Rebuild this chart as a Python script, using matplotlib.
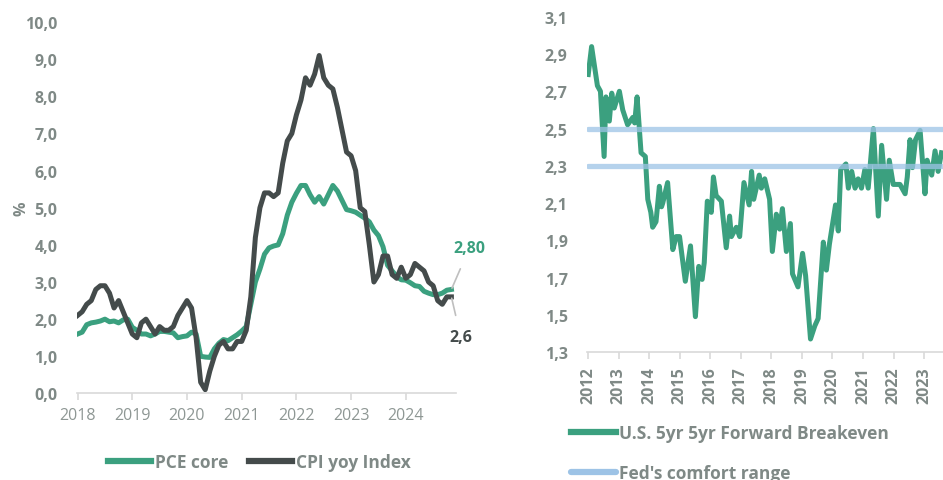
import numpy as np
import matplotlib
matplotlib.use('Agg')
import matplotlib.pyplot as plt

plt.rcParams['font.family'] = ['Open Sans', 'DejaVu Sans']

# --- left panel: monthly yoy, Jan 2018 .. Nov 2024 ---
start_year = 2018
pce_core = [
    1.60, 1.65, 1.85, 1.90, 1.92, 1.95, 2.00, 1.93, 1.95, 1.90, 1.98, 2.00,
    1.78, 1.70, 1.60, 1.60, 1.55, 1.60, 1.67, 1.67, 1.65, 1.63, 1.50, 1.53,
    1.55, 1.65, 1.60, 1.00, 0.98, 0.97, 1.20, 1.35, 1.45, 1.42, 1.50, 1.58,
    1.68, 1.80, 2.40, 3.00, 3.35, 3.75, 3.92, 3.97, 4.00, 4.30, 4.80, 5.15,
    5.39, 5.60, 5.60, 5.35, 5.15, 5.30, 5.10, 5.35, 5.60, 5.45, 5.20, 4.95,
    4.92, 4.88, 4.80, 4.72, 4.62, 4.40, 4.25, 3.95, 3.45, 3.30, 3.15, 3.06,
    3.05, 2.98, 2.90, 2.88, 2.75, 2.70, 2.66, 2.66, 2.70, 2.78, 2.80,
]
cpi_yoy = [
    2.1, 2.2, 2.4, 2.5, 2.8, 2.9, 2.9, 2.7, 2.3, 2.5, 2.2, 1.9,
    1.6, 1.5, 1.9, 2.0, 1.8, 1.6, 1.8, 1.7, 1.7, 1.8, 2.1, 2.3,
    2.5, 2.3, 1.5, 0.3, 0.1, 0.6, 1.0, 1.3, 1.4, 1.2, 1.2, 1.4,
    1.4, 1.7, 2.6, 4.2, 5.0, 5.4, 5.4, 5.3, 5.4, 6.2, 6.8, 7.0,
    7.5, 7.9, 8.5, 8.3, 8.6, 9.1, 8.5, 8.3, 8.2, 7.7, 7.1, 6.5,
    6.4, 6.0, 5.0, 4.9, 4.0, 3.0, 3.2, 3.7, 3.7, 3.2, 3.1, 3.4,
    3.1, 3.2, 3.5, 3.4, 3.3, 3.0, 2.9, 2.5, 2.4, 2.6, 2.6,
]
left_years = list(range(2018, 2025))
left_yticks = np.arange(0, 10.01, 1.0)

# --- right panel: 5y5y forward breakeven (decimal years) ---
be_dates = [
    2012.00, 2012.11, 2012.30, 2012.40, 2012.52, 2012.58, 2012.63, 2012.69, 2012.77, 2012.85,
    2013.02, 2013.13, 2013.29, 2013.46, 2013.52, 2013.60, 2013.73, 2013.87, 2013.95,
    2014.05, 2014.11, 2014.22, 2014.33, 2014.40, 2014.44, 2014.60, 2014.77, 2014.88, 2014.99,
    2015.18, 2015.35, 2015.51, 2015.62, 2015.73, 2015.80, 2015.90,
    2016.03, 2016.10, 2016.19, 2016.36, 2016.52, 2016.63, 2016.69, 2016.85, 2016.96,
    2017.10, 2017.27, 2017.35, 2017.42, 2017.60, 2017.67, 2017.78, 2017.94,
    2018.03, 2018.16, 2018.27, 2018.36, 2018.49, 2018.62, 2018.69, 2018.87,
    2019.02, 2019.12, 2019.28, 2019.42, 2019.53, 2019.70, 2019.80, 2019.90,
    2020.10, 2020.19, 2020.27, 2020.44, 2020.52, 2020.63, 2020.74, 2020.84, 2020.95,
    2021.06, 2021.17, 2021.34, 2021.50, 2021.61, 2021.77, 2021.86, 2021.99,
    2022.21, 2022.38, 2022.45, 2022.54, 2022.62, 2022.72, 2022.87,
    2023.03, 2023.10, 2023.25, 2023.36, 2023.46, 2023.57,
]
be_values = [
    2.79, 2.94, 2.73, 2.70, 2.35, 2.67, 2.55, 2.54, 2.69, 2.61,
    2.70, 2.60, 2.52, 2.56, 2.53, 2.67, 2.37, 2.35, 2.12,
    2.05, 1.97, 2.00, 2.19, 2.08, 2.10, 2.21, 1.85, 1.92, 1.92,
    1.68, 1.87, 1.49, 1.76, 1.69, 1.78, 2.11,
    2.05, 2.24, 2.14, 2.11, 1.86, 2.03, 1.92, 1.97, 1.92,
    2.21, 2.09, 2.27, 2.12, 2.25, 2.18, 2.23, 2.12,
    1.84, 2.04, 1.96, 2.07, 1.84, 1.99, 1.72, 1.65,
    1.83, 1.71, 1.37, 1.44, 1.48, 1.89, 1.74, 1.88,
    2.09, 1.95, 2.28, 2.31, 2.18, 2.27, 2.18, 2.23, 2.18,
    2.28, 2.18, 2.50, 2.03, 2.41, 2.12, 2.33, 2.20,
    2.20, 2.15, 2.24, 2.44, 2.29, 2.44, 2.49,
    2.15, 2.33, 2.25, 2.38, 2.27, 2.37,
]
comfort_range = [2.3, 2.5]
right_years = list(range(2012, 2024))
right_yticks = np.arange(1.3, 3.11, 0.2)

GREEN = '#3ba07f'
DARK = '#444b4b'
BLUE = '#9dc3e6'
GRAY = '#7f8986'
LGRAY = '#8e9794'
AXIS = '#d9d9d9'
FS = 11.5

fig = plt.figure(figsize=(9.43, 4.81), dpi=100)

# ---------------- left chart ----------------
ax1 = fig.add_axes([0.0817, 0.180, 0.402, 0.772])
xm = start_year + np.arange(len(pce_core)) / 12
ax1.plot(xm, pce_core, color=GREEN, lw=3.6, solid_joinstyle='round', label='PCE core')
ax1.plot(xm, cpi_yoy, color=DARK, lw=3.6, solid_joinstyle='round', label='CPI yoy Index')
ax1.set_xlim(2017.99, 2024.92)
ax1.set_ylim(0, 10)
ax1.set_xticks(left_years)
ax1.set_xticklabels([str(y) for y in left_years], fontsize=FS, color=LGRAY)
ax1.set_yticks(left_yticks)
ax1.set_yticklabels([f'{v:.1f}'.replace('.', ',') for v in left_yticks],
                    fontsize=FS, color=GRAY, fontweight='bold')
for s in ['top', 'right', 'left']:
    ax1.spines[s].set_visible(False)
ax1.spines['bottom'].set_color(AXIS)
ax1.spines['bottom'].set_linewidth(1.2)
ax1.tick_params(axis='y', length=0, pad=14)
ax1.tick_params(axis='x', length=5, color=AXIS, width=1.2, pad=5)
ax1.set_ylabel('%', fontsize=FS, color=GRAY, fontweight='bold')
ax1.yaxis.set_label_coords(-0.125, 0.5)

ax1.annotate('2,80', xy=(xm[-1], pce_core[-1]), xytext=(xm[-1] + 0.33, 3.92),
             ha='center', va='center', fontsize=FS, fontweight='bold', color=GREEN,
             arrowprops=dict(arrowstyle='-', color='#bfbfbf', lw=1.2,
                             shrinkA=8, shrinkB=1),
             annotation_clip=False)
ax1.annotate('2,6', xy=(xm[-1], cpi_yoy[-1]), xytext=(xm[-1] + 0.17, 1.52),
             ha='center', va='center', fontsize=FS, fontweight='bold', color=DARK,
             arrowprops=dict(arrowstyle='-', color='#bfbfbf', lw=1.2,
                             shrinkA=8, shrinkB=1),
             annotation_clip=False)

leg1 = ax1.legend(loc='center', bbox_to_anchor=(0.48, -0.186), ncol=2, frameon=False,
                  fontsize=12.5, handlelength=2.5, handletextpad=0.2, columnspacing=1.2)
for t in leg1.get_texts():
    t.set_color(GRAY)
    t.set_fontweight('bold')
for h in leg1.get_lines():
    h.set_linewidth(4.5)

# ---------------- right chart ----------------
ax2 = fig.add_axes([0.6225, 0.266, 0.3775, 0.697])
ax2.plot(be_dates, be_values, color=GREEN, lw=3.6, solid_joinstyle='round',
         label='U.S. 5yr 5yr Forward Breakeven')
for i, lvl in enumerate(comfort_range):
    ax2.plot([be_dates[0], 2030], [lvl, lvl], color=BLUE, lw=3.8, alpha=0.75,
             solid_capstyle='round', zorder=3,
             label="Fed's comfort range" if i == 0 else None)
ax2.set_xlim(2011.96, 2023.62)
ax2.set_ylim(1.3, 3.1)
ax2.set_xticks(right_years)
ax2.set_xticklabels([str(y) for y in right_years], fontsize=FS, color=GRAY,
                    fontweight='bold', rotation=90)
ax2.set_yticks(right_yticks)
ax2.set_yticklabels([f'{v:.1f}'.replace('.', ',') for v in right_yticks],
                    fontsize=FS, color=GRAY, fontweight='bold')
for s in ['top', 'right', 'left']:
    ax2.spines[s].set_visible(False)
ax2.spines['bottom'].set_color(AXIS)
ax2.spines['bottom'].set_linewidth(1.2)
ax2.tick_params(axis='y', length=0, pad=14)
ax2.tick_params(axis='x', length=5, color=AXIS, width=1.2, pad=5)

leg2 = ax2.legend(loc='upper left', bbox_to_anchor=(-0.045, -0.215), ncol=1, frameon=False,
                  fontsize=12.5, handlelength=2.6, handletextpad=0.15, labelspacing=1.25,
                  borderaxespad=0, borderpad=0)
for t in leg2.get_texts():
    t.set_color(GRAY)
    t.set_fontweight('bold')
for h in leg2.get_lines():
    h.set_linewidth(4.5)
    h.set_alpha(1)

fig.savefig('out.png', dpi=100)
